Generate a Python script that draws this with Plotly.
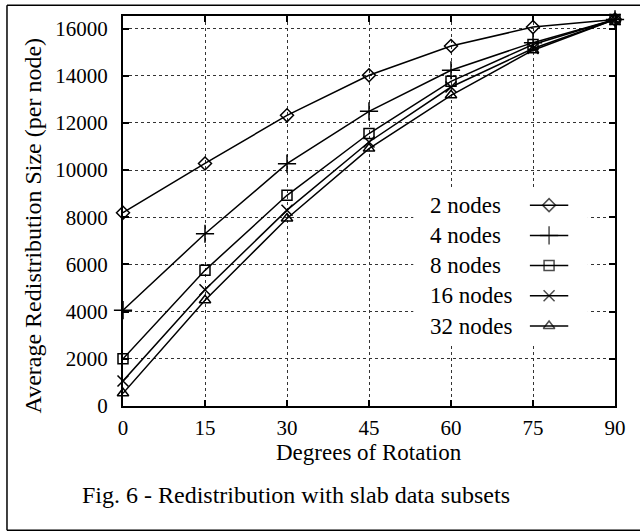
import plotly.graph_objects as go

# ---- data ----
degrees = [0, 15, 30, 45, 60, 75, 90]
series_names = ["2 nodes", "4 nodes", "8 nodes", "16 nodes", "32 nodes"]
nodes2 = [8192, 10280, 12320, 14020, 15260, 16060, 16384]
nodes4 = [4060, 7300, 10270, 12490, 14230, 15400, 16384]
nodes8 = [2000, 5750, 8930, 11550, 13760, 15320, 16384]
nodes16 = [1060, 4930, 8300, 11190, 13520, 15150, 16384]
nodes32 = [540, 4480, 7950, 10910, 13170, 15080, 16384]
series_values = [nodes2, nodes4, nodes8, nodes16, nodes32]
x_ticks = [0, 15, 30, 45, 60, 75, 90]
y_ticks = [0, 2000, 4000, 6000, 8000, 10000, 12000, 14000, 16000]

# ---- style ----
symbols = ["diamond-open", "cross-thin-open", "square-open", "x-thin-open", "triangle-up-open"]
sizes = [10, 13, 10, 11, 10]
FONT = "Liberation Serif"
TICK_SIZE = 21

fig = go.Figure()
for name, vals, sym, sz in zip(series_names, series_values, symbols, sizes):
    fig.add_trace(go.Scatter(
        x=degrees, y=vals, mode="lines+markers", name=name, showlegend=False,
        line=dict(color="black", width=1.5),
        marker=dict(symbol=sym, size=sz, color="black", line=dict(color="black", width=1.5)),
        cliponaxis=False,
    ))

# manual legend (text left, sample right) drawn on an overlay axis in plot-fraction units
bx0, bx1, by0, by1 = 0.59, 0.945, 0.155, 0.555
fig.add_trace(go.Scatter(
    x=[bx0, bx1, bx1, bx0, bx0], y=[by0, by0, by1, by1, by0], xaxis="x2", yaxis="y2",
    mode="lines", fill="toself", fillcolor="white", line=dict(width=0, color="white"),
    showlegend=False, hoverinfo="skip",
))
row_top = 0.515
row_step = 0.0775
for i, (name, sym, sz) in enumerate(zip(series_names, symbols, sizes)):
    ry = row_top - i * row_step
    fig.add_trace(go.Scatter(
        x=[0.827, 0.866, 0.905], y=[ry, ry, ry], xaxis="x2", yaxis="y2",
        mode="lines+markers", showlegend=False, hoverinfo="skip",
        line=dict(color="black", width=1.5),
        marker=dict(symbol=sym, size=[0, sz, 0], color="black",
                    line=dict(color="black", width=1.5)),
    ))
    fig.add_annotation(x=0.62, y=ry, xref="x2", yref="y2", text=name, showarrow=False,
                       xanchor="left", yanchor="middle", font=dict(family=FONT, size=23, color="black"))

# outer frame of the figure (left, top, bottom edges)
for (x0, y0, x1, y1) in [(-0.2358, -0.3187, -0.2358, 1.0274),
                         (-0.2358, 1.0274, 1.1, 1.0274),
                         (-0.2358, -0.3187, 1.1, -0.3187)]:
    fig.add_shape(type="line", xref="paper", yref="paper", x0=x0, y0=y0, x1=x1, y1=y1,
                  line=dict(color="black", width=1.5), layer="above")

axis_style = dict(
    tickfont=dict(family=FONT, size=TICK_SIZE, color="black"),
    showline=True, linecolor="black", linewidth=2, mirror="ticks",
    ticks="inside", ticklen=6, tickwidth=2, tickcolor="black",
    showgrid=True, gridcolor="#333333", gridwidth=1, griddash="dot", zeroline=False,
)

fig.update_layout(
    width=640, height=532,
    margin=dict(l=123, r=25, t=16, b=126),
    paper_bgcolor="white", plot_bgcolor="white",
    font=dict(family=FONT, size=TICK_SIZE, color="black"),
    xaxis=dict(range=[0, 90], tickmode="array", tickvals=x_ticks,
               ticktext=[str(v) for v in x_ticks], ticklabelstandoff=2, **axis_style),
    yaxis=dict(range=[0, 16530], tickmode="array", tickvals=y_ticks,
               ticktext=[str(v) for v in y_ticks], ticklabelstandoff=9, **axis_style),
    xaxis2=dict(range=[0, 1], overlaying="x", visible=False, fixedrange=True),
    yaxis2=dict(range=[0, 1], overlaying="y", visible=False, fixedrange=True),
)

fig.add_annotation(x=0.5, y=-0.12, xref="paper", yref="paper", text="Degrees of Rotation",
                   showarrow=False, yanchor="middle", font=dict(family=FONT, size=23, color="black"))
fig.add_annotation(x=-0.183, y=0.463, xref="paper", yref="paper", text="Average Redistribution Size (per node)",
                   showarrow=False, textangle=-90, xanchor="center", yanchor="middle",
                   font=dict(family=FONT, size=24, color="black"))
fig.add_annotation(x=0.352, y=-0.229, xref="paper", yref="paper",
                   text="Fig. 6 - Redistribution with slab data subsets",
                   showarrow=False, xanchor="center", yanchor="middle",
                   font=dict(family=FONT, size=24, color="black"))

fig.write_html("out.html")
